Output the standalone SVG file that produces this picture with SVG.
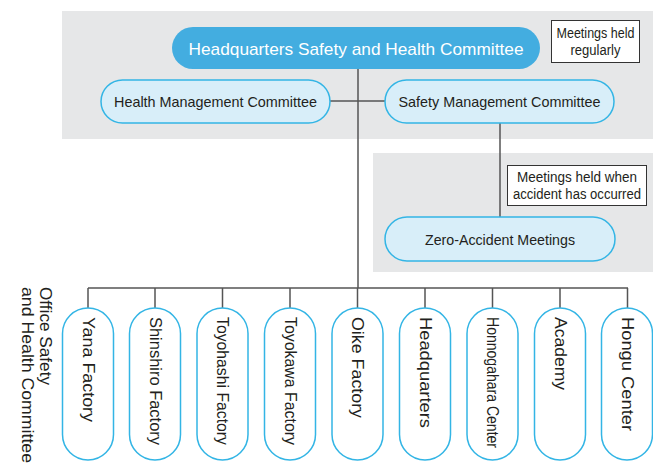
<svg xmlns="http://www.w3.org/2000/svg" width="653" height="473" viewBox="0 0 653 473">
<style>
.t{font-family:"Liberation Sans",Arial,sans-serif;fill:#231f20}
.lc{fill:#d8eef9;stroke:#33b5e5;stroke-width:1.5}
.bn{fill:#fff;stroke:#33b5e5;stroke-width:1.5}
.note{fill:#fff;stroke:#333;stroke-width:1}
.ln{stroke:#555;stroke-width:1.5;fill:none}
</style>
<rect x="62" y="11" width="591" height="128" fill="#e6e7e8"/>
<rect x="373" y="153" width="280" height="119" fill="#e6e7e8"/>
<g id="connectors">
<path class="ln" d="M358 69V288M330 101H385M500 123V218M88 288H628M88 288V308M155 288V308M222.5 288V308M290 288V308M357.5 288V308M425 288V308M492.5 288V308M560 288V308M627.5 288V308"/>
</g>
<g id="hq">
<rect x="172" y="27" width="368" height="42" rx="21" fill="#43ade0"/>
<text class="t" x="356" y="54.5" text-anchor="middle" font-size="17" style="fill:#fff" textLength="335" lengthAdjust="spacingAndGlyphs">Headquarters Safety and Health Committee</text>
</g>
<g id="note1">
<rect class="note" x="551.5" y="20.5" width="88" height="42"/>
<text class="t" x="595.5" y="38" text-anchor="middle" font-size="14" textLength="78" lengthAdjust="spacingAndGlyphs">Meetings held</text>
<text class="t" x="595.5" y="55" text-anchor="middle" font-size="14" textLength="50" lengthAdjust="spacingAndGlyphs">regularly</text>
</g>
<g id="health">
<rect class="lc" x="101" y="80" width="229" height="43" rx="21.5"/>
<text class="t" x="215.5" y="107" text-anchor="middle" font-size="15" textLength="203" lengthAdjust="spacingAndGlyphs">Health Management Committee</text>
</g>
<g id="safety">
<rect class="lc" x="385" y="80" width="229" height="43" rx="21.5"/>
<text class="t" x="499.5" y="107" text-anchor="middle" font-size="15" textLength="202" lengthAdjust="spacingAndGlyphs">Safety Management Committee</text>
</g>
<g id="note2">
<rect class="note" x="507.5" y="165.5" width="139" height="40"/>
<text class="t" x="577" y="182" text-anchor="middle" font-size="14" textLength="120" lengthAdjust="spacingAndGlyphs">Meetings held when</text>
<text class="t" x="577" y="199" text-anchor="middle" font-size="14" textLength="128" lengthAdjust="spacingAndGlyphs">accident has occurred</text>
</g>
<g id="zero">
<rect class="lc" x="385" y="217" width="230" height="44" rx="22"/>
<text class="t" x="500" y="244.5" text-anchor="middle" font-size="15" textLength="150" lengthAdjust="spacingAndGlyphs">Zero-Accident Meetings</text>
</g>
<g id="office-label">
<text class="t" font-size="16" transform="translate(45 287) rotate(90)" dominant-baseline="central" textLength="98" lengthAdjust="spacingAndGlyphs">Office Safety</text>
<text class="t" font-size="16" transform="translate(27 287) rotate(90)" dominant-baseline="central" textLength="176" lengthAdjust="spacingAndGlyphs">and Health Committee</text>
</g>
<g id="yana">
<rect class="bn" x="62.5" y="308" width="51" height="152" rx="25.5"/>
<text class="t" font-size="16" transform="translate(88 317) rotate(90)" dominant-baseline="central" textLength="105" lengthAdjust="spacingAndGlyphs">Yana Factory</text>
</g>
<g id="shinshiro">
<rect class="bn" x="129.5" y="308" width="51" height="152" rx="25.5"/>
<text class="t" font-size="16" transform="translate(155 317) rotate(90)" dominant-baseline="central" textLength="128" lengthAdjust="spacingAndGlyphs">Shinshiro Factory</text>
</g>
<g id="toyohashi">
<rect class="bn" x="197" y="308" width="51" height="152" rx="25.5"/>
<text class="t" font-size="16" transform="translate(222.5 317) rotate(90)" dominant-baseline="central" textLength="128" lengthAdjust="spacingAndGlyphs">Toyohashi Factory</text>
</g>
<g id="toyokawa">
<rect class="bn" x="264.5" y="308" width="51" height="152" rx="25.5"/>
<text class="t" font-size="16" transform="translate(290 317) rotate(90)" dominant-baseline="central" textLength="128" lengthAdjust="spacingAndGlyphs">Toyokawa Factory</text>
</g>
<g id="oike">
<rect class="bn" x="332" y="308" width="51" height="152" rx="25.5"/>
<text class="t" font-size="16" transform="translate(357.5 317) rotate(90)" dominant-baseline="central" textLength="101" lengthAdjust="spacingAndGlyphs">Oike Factory</text>
</g>
<g id="headquarters">
<rect class="bn" x="399.5" y="308" width="51" height="152" rx="25.5"/>
<text class="t" font-size="16" transform="translate(425 317) rotate(90)" dominant-baseline="central" textLength="111" lengthAdjust="spacingAndGlyphs">Headquarters</text>
</g>
<g id="honnogahara">
<rect class="bn" x="467" y="308" width="51" height="152" rx="25.5"/>
<text class="t" font-size="16" transform="translate(492.5 317) rotate(90)" dominant-baseline="central" textLength="131" lengthAdjust="spacingAndGlyphs">Honnogahara Center</text>
</g>
<g id="academy">
<rect class="bn" x="534.5" y="308" width="51" height="152" rx="25.5"/>
<text class="t" font-size="16" transform="translate(560 317) rotate(90)" dominant-baseline="central" textLength="73" lengthAdjust="spacingAndGlyphs">Academy</text>
</g>
<g id="hongu">
<rect class="bn" x="601.5" y="308" width="51" height="152" rx="25.5"/>
<text class="t" font-size="16" transform="translate(627.5 317) rotate(90)" dominant-baseline="central" textLength="114" lengthAdjust="spacingAndGlyphs">Hongu Center</text>
</g>
</svg>
